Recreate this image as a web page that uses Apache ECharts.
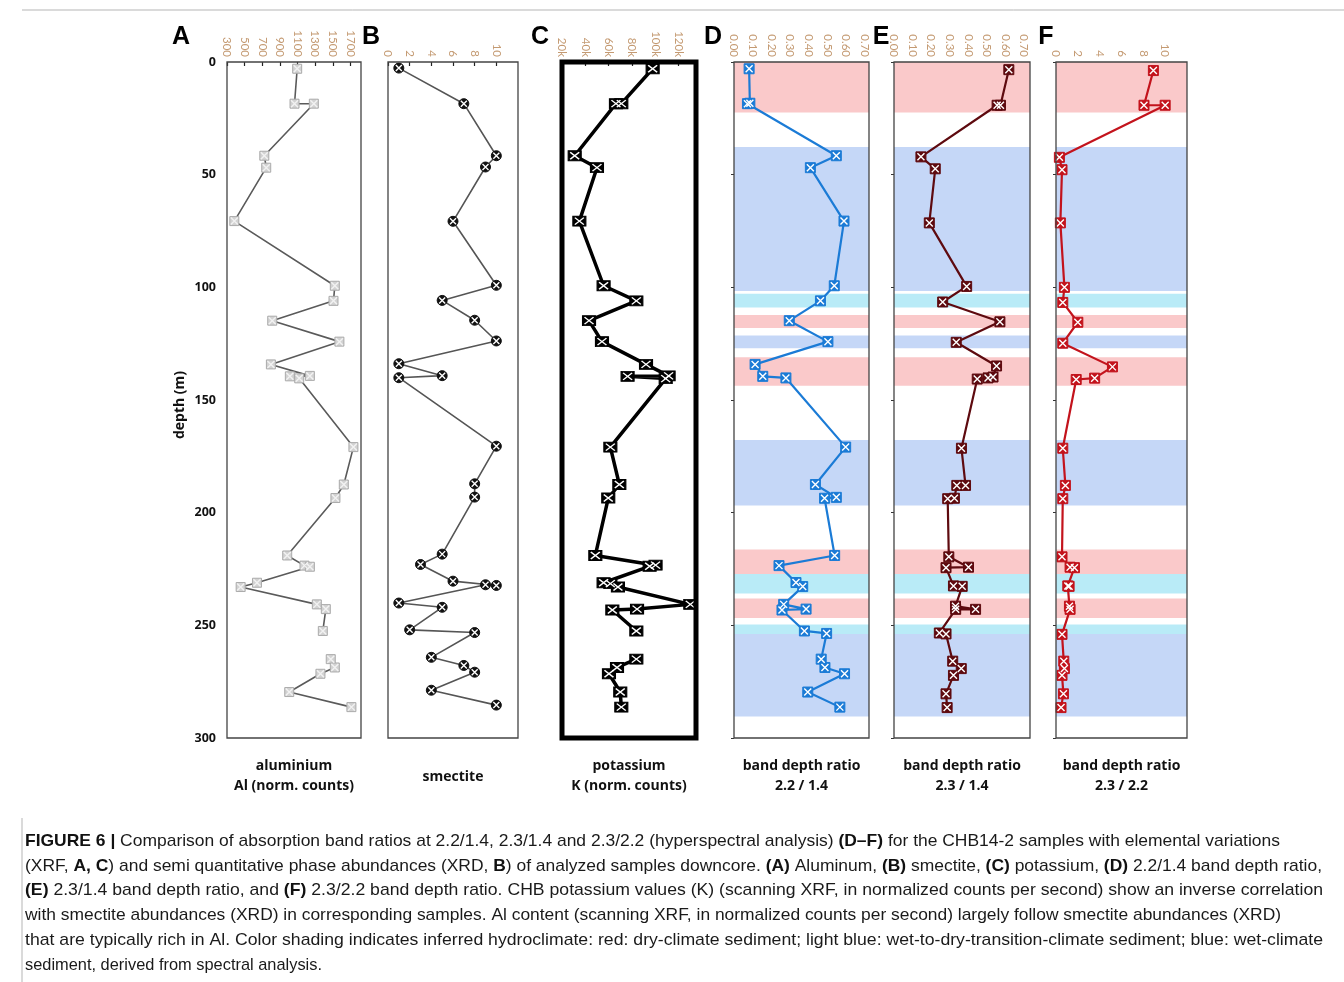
<!DOCTYPE html>
<html><head><meta charset="utf-8">
<script src="https://cdn.jsdelivr.net/npm/echarts@6/dist/echarts.min.js"></script>
<style>html,body{margin:0;padding:0;background:#fff}#c{width:1344px;height:982px}</style>
</head><body><div id="c"></div>
<script>
// ---------------- DATA ----------------
const depthTicks = [0, 50, 100, 150, 200, 250, 300];

// A: aluminium (norm. counts)  (null = gap in line)
const alDepth = [3, 18.5, 18.5, 41.6, 46.9, 70.6, 99.3, 106, 114.8, 124.1, 134.2, 139.3, 139.5, 140.4, 170.9, 187.5, 193.5, 219, 223.5, 224, 231.1, 233, 240.7, 242.8, 252.5, null, 265, 268.7, 271.5, 279.6, 286.3];
const alValue = [1096, 1066, 1285, 723, 745, 383, 1523, 1508, 813, 1575, 798, 1240, 1013, 1119, 1734, 1625, 1530, 983, 1179, 1240, 640, 455, 1319, 1421, 1387, null, 1477, 1523, 1360, 1006, 1711];

// B: smectite
const smDepth = [2.7, 18.5, 41.6, 46.6, 70.7, 99.1, 105.8, 114.6, 123.8, 133.9, 139.2, 140.1, 170.5, 187.2, 193.1, 218.4, 223, 230.4, 232.3, 232, 240.1, 242, 252, 253.2, 264.2, 267.8, 270.8, 278.8, 285.4];
const smValue = [1, 7, 10, 9, 6, 10, 5, 8, 10, 1, 5, 1, 10, 8, 8, 5, 3, 6, 10, 9, 1, 5, 2, 8, 4, 7, 8, 4, 10];

// C: potassium K (norm. counts)
const kDepth = [3, 18.5, 18.5, 41.6, 46.9, 70.6, 99.3, 106, 114.8, 124.1, 134.2, 139.3, 139.5, 140.5, 170.9, 187.5, 193.5, 219, 223.3, 223.8, 231.1, 231.5, 233, 240.7, 242.8, 243.2, 252.5, null, 265, 268.7, 271.5, 279.6, 286.3];
const kValue = [97800, 70900, 66300, 30900, 50000, 34900, 55700, 83800, 43200, 54300, 92100, 111500, 76300, 109000, 61500, 69200, 59700, 48600, 100300, 95200, 55700, 61500, 68000, 130100, 84400, 63200, 83800, null, 83800, 67200, 60300, 70000, 70900];

// D: band depth ratio 2.2 / 1.4
const d22Depth = [3, 18.3, 18.5, 41.6, 46.9, 70.6, 99.3, 106, 114.8, 124.1, 134.2, 139.5, 140.2, 170.9, 187.5, 193.2, 193.6, 219, 223.5, 231, 232.8, 240.7, 242.8, 243.2, 252.5, 253.6, 265, 268.7, 271.5, 279.6, 286.3];
const d22Value = [0.081, 0.085, 0.072, 0.548, 0.409, 0.589, 0.537, 0.463, 0.296, 0.503, 0.113, 0.154, 0.278, 0.598, 0.436, 0.548, 0.485, 0.539, 0.241, 0.332, 0.368, 0.266, 0.386, 0.257, 0.377, 0.496, 0.467, 0.487, 0.592, 0.395, 0.567];

// E: band depth ratio 2.3 / 1.4
const e23Depth = [3.4, 19.2, 19.2, 42.1, 47.4, 71.4, 99.6, 106.5, 115.3, 124.4, 134.9, 139.8, 140.2, 140.7, 171.4, 187.9, 187.9, 193.6, 193.8, 219.6, 224.2, 224.4, 232.5, 232.7, 241.5, 242.9, 242.9, 253.4, 253.8, 265.9, 269.2, 272.2, 280.4, 286.5];
const e23Value = [0.618, 0.573, 0.555, 0.145, 0.222, 0.190, 0.391, 0.262, 0.570, 0.335, 0.552, 0.533, 0.506, 0.448, 0.363, 0.385, 0.338, 0.325, 0.289, 0.295, 0.401, 0.280, 0.320, 0.367, 0.331, 0.439, 0.332, 0.244, 0.280, 0.316, 0.362, 0.320, 0.280, 0.286];

// F: band depth ratio 2.3 / 2.2
const fDepth = [3.8, 19.2, 19.2, 42.3, 47.8, 71.4, 100, 106.7, 115.5, 124.8, 135.3, 140.3, 140.9, 171.4, 187.9, 193.8, 219.6, 224.2, 224.4, 232.5, 232.7, 241.5, 242.9, 254, 265.9, 269.2, 272.2, 280.4, 286.5];
const fValue = [8.92, 8.06, 10.0, 0.31, 0.55, 0.40, 0.77, 0.62, 2.0, 0.62, 5.17, 3.54, 1.85, 0.62, 0.86, 0.62, 0.55, 1.29, 1.69, 1.08, 1.2, 1.23, 1.29, 0.55, 0.71, 0.77, 0.55, 0.68, 0.46];

// hydroclimate shading (depth intervals)
const bandStart = [0, 37.7, 102.8, 112.3, 121.4, 131, 167.7, 216.3, 227.2, 238.1, 249.6, 253.8];
const bandEnd   = [22.4, 101.6, 108.9, 118.1, 127, 143.7, 196.8, 227.2, 235.9, 246.8, 253.8, 290.5];
const bandType  = ['dry', 'wet', 'transition', 'dry', 'wet', 'dry', 'wet', 'dry', 'transition', 'dry', 'transition', 'wet'];

// tick labels / axis titles
const panelLetters = ['A', 'B', 'C', 'D', 'E', 'F'];
const panelTitles = [['aluminium', 'Al (norm. counts)'], ['smectite'], ['potassium', 'K (norm. counts)'], ['band depth ratio', '2.2 / 1.4'], ['band depth ratio', '2.3 / 1.4'], ['band depth ratio', '2.3 / 2.2']];
const captionLines = [
  '{b|FIGURE 6 |} Comparison of absorption band ratios at 2.2/1.4, 2.3/1.4 and 2.3/2.2 (hyperspectral analysis) {b|(D–F)} for the CHB14-2 samples with elemental variations',
  '(XRF, {b|A, C}) and semi quantitative phase abundances (XRD, {b|B}) of analyzed samples downcore. {b|(A)} Aluminum, {b|(B)} smectite, {b|(C)} potassium, {b|(D)} 2.2/1.4 band depth ratio,',
  '{b|(E)} 2.3/1.4 band depth ratio, and {b|(F)} 2.3/2.2 band depth ratio. CHB potassium values (K) (scanning XRF, in normalized counts per second) show an inverse correlation',
  'with smectite abundances (XRD) in corresponding samples. Al content (scanning XRF, in normalized counts per second) largely follow smectite abundances (XRD)',
  'that are typically rich in Al. Color shading indicates inferred hydroclimate: red: dry-climate sediment; light blue: wet-to-dry-transition-climate sediment; blue: wet-climate',
  'sediment, derived from spectral analysis.'
];

// ---------------- STYLE / LAYOUT ----------------
const bandColor = { dry: '#fac9ca', wet: '#c5d7f7', transition: '#b9ebf7' };
const panels = [
  { left: 227, width: 134, min: 300, max: 1820, interval: 200, fmt: v => String(v), border: '#444', bw: 1.3,
    line: '#5a5a5a', lw: 1.6, sym: 'rect', ss: 9, fill: '#d2d2d2', edge: '#ababab', xc: '#f2f2f2', xs: 7, depth: alDepth, value: alValue },
  { left: 388, width: 130, min: 0, max: 12, interval: 2, fmt: v => String(v), border: '#444', bw: 1.3,
    line: '#555', lw: 1.6, sym: 'circle', ss: 10, fill: '#111', edge: '#111', xc: '#fff', xs: 6, depth: smDepth, value: smValue },
  { left: 562, width: 134, min: 20000, max: 135000, interval: 20000, fmt: v => (v / 1000) + 'k', border: '#000', bw: 5,
    line: '#000', lw: 3.5, sym: 'rect', ss: [13, 10], fill: '#000', edge: '#000', xc: '#fff', xs: [9, 7], depth: kDepth, value: kValue },
  { left: 734, width: 135, min: 0, max: 0.723, interval: 0.1, fmt: v => v.toFixed(2), border: '#444', bw: 1.3, bands: true,
    line: '#1b7bd6', lw: 2.2, sym: 'rect', ss: 10, fill: '#1b7bd6', edge: '#1b7bd6', xc: '#fff', xs: 7, depth: d22Depth, value: d22Value },
  { left: 894, width: 136, min: 0, max: 0.732, interval: 0.1, fmt: v => v.toFixed(2), border: '#444', bw: 1.3, bands: true,
    line: '#5e0a0f', lw: 2.2, sym: 'rect', ss: 10, fill: '#5e0a0f', edge: '#5e0a0f', xc: '#fff', xs: 7, depth: e23Depth, value: e23Value },
  { left: 1056, width: 131, min: 0, max: 12, interval: 2, fmt: v => String(v), border: '#444', bw: 1.3, bands: true,
    line: '#c3131c', lw: 2.2, sym: 'rect', ss: 10, fill: '#c3131c', edge: '#c3131c', xc: '#fff', xs: 7, depth: fDepth, value: fValue }
];
const TOP = 62, H = 676;
const tickColor = '#c49a72';

function pairs(depth, value) {
  return depth.map((d, i) => (d == null || value[i] == null) ? ['-', '-'] : [value[i], d]);
}
function validPairs(depth, value) {
  return pairs(depth, value).filter(p => p[0] !== '-');
}

const grids = [], xAxes = [], yAxes = [], series = [];
panels.forEach((p, i) => {
  grids.push({ left: p.left, top: TOP, width: p.width, height: H, show: true, borderColor: p.border, borderWidth: p.bw, backgroundColor: 'transparent', z: 5 });
  xAxes.push({
    gridIndex: i, type: 'value', position: 'top', min: p.min, max: p.max, interval: p.interval,
    axisLine: { show: false },
    axisTick: { show: true, inside: true, length: 4, lineStyle: { color: '#222', width: 1.2 } },
    axisLabel: { rotate: -90, color: tickColor, fontSize: 11.5, fontFamily: 'Lato', margin: 5, showMaxLabel: false, formatter: p.fmt },
    splitLine: { show: false }
  });
  yAxes.push({
    gridIndex: i, type: 'value', inverse: true, min: depthTicks[0], max: depthTicks[depthTicks.length - 1], interval: 50,
    axisLine: { show: false },
    axisTick: { show: !!p.bands, length: 3, lineStyle: { color: '#333' } },
    axisLabel: { show: i === 0, color: '#111', fontWeight: 'bold', fontSize: 12.5, fontFamily: 'Open Sans', margin: 11 },
    splitLine: { show: false }
  });
  const s = {
    type: 'line', xAxisIndex: i, yAxisIndex: i, data: pairs(p.depth, p.value),
    connectNulls: false, showSymbol: true, showAllSymbol: true, symbol: p.sym, symbolSize: p.ss,
    lineStyle: { color: p.line, width: p.lw },
    itemStyle: { color: p.fill, borderColor: p.edge, borderWidth: 1 },
    emphasis: { disabled: true }, silent: true, z: 3
  };
  if (p.bands) {
    s.markArea = {
      silent: true,
      data: bandStart.map((b, k) => [
        { yAxis: b, itemStyle: { color: bandColor[bandType[k]], opacity: 1 } },
        { yAxis: bandEnd[k] }
      ])
    };
  }
  series.push(s);
  series.push({
    type: 'scatter', xAxisIndex: i, yAxisIndex: i, data: validPairs(p.depth, p.value),
    symbol: 'path://M0,0L10,10M10,0L0,10', symbolSize: p.xs,
    itemStyle: { color: 'rgba(0,0,0,0)', borderColor: p.xc, borderWidth: 1.4, opacity: 1 },
    emphasis: { disabled: true }, silent: true, z: 4
  });
});

// ---------------- GRAPHICS (text) ----------------
const graphics = [];
const letterX = [181, 371, 540, 713, 881, 1046];
const labelFont = 'bold 14px "Open Sans"';
panelLetters.forEach((L, i) => graphics.push({
  type: 'text', x: letterX[i], y: 37, style: { text: L, font: 'bold 25px "Liberation Sans", Arial', fill: '#000', align: 'center', verticalAlign: 'middle' }
}));
panelTitles.forEach((t, i) => {
  const cx = panels[i].left + panels[i].width / 2;
  if (t.length === 1) {
    graphics.push({ type: 'text', x: cx, y: 777, style: { text: t[0], font: labelFont, fill: '#111', align: 'center', verticalAlign: 'middle' } });
  } else {
    graphics.push({ type: 'text', x: cx, y: 766, style: { text: t[0], font: labelFont, fill: '#111', align: 'center', verticalAlign: 'middle' } });
    graphics.push({ type: 'text', x: cx, y: 786, style: { text: t[1], font: labelFont, fill: '#111', align: 'center', verticalAlign: 'middle' } });
  }
});
graphics.push({ type: 'text', x: 180, y: 405, rotation: Math.PI / 2, style: { text: 'depth (m)', font: labelFont, fill: '#111', align: 'center', verticalAlign: 'middle' } });

// frame lines
graphics.push({ type: 'line', shape: { x1: 22, y1: 10, x2: 1344, y2: 10 }, style: { stroke: '#b5b5b5', lineWidth: 1 } });
graphics.push({ type: 'line', shape: { x1: 22, y1: 818, x2: 22, y2: 982 }, style: { stroke: '#b5b5b5', lineWidth: 1 } });

// caption
const capFont = '17px "Liberation Sans", Arial';
const capBold = 'bold 17px "Liberation Sans", Arial';
const mctx = document.createElement('canvas').getContext('2d');
function measureRich(str) {
  let w = 0, last = 0, m; const re = /\{b\|([^}]*)\}/g;
  while ((m = re.exec(str))) {
    mctx.font = capFont; w += mctx.measureText(str.slice(last, m.index)).width;
    mctx.font = capBold; w += mctx.measureText(m[1]).width;
    last = re.lastIndex;
  }
  mctx.font = capFont; w += mctx.measureText(str.slice(last)).width;
  return w;
}
const capTargets = [1255, 1297, 1298, 1256, 1298, 297];
const capY = [841, 866, 890.5, 915, 940, 965];
captionLines.forEach((line, i) => {
  const sx = capTargets[i] / measureRich(line);
  graphics.push({
    type: 'text', x: 25, y: capY[i], scaleX: sx, originX: 0, originY: 0,
    style: { x: 0, y: 0, text: line, font: capFont, fill: '#1a1a1a', verticalAlign: 'middle', align: 'left',
      rich: { b: { font: capBold, fill: '#111' } } }
  });
});

const chart = echarts.init(document.getElementById('c'), null, { renderer: 'canvas' });
chart.setOption({
  animation: false,
  backgroundColor: '#fff',
  grid: grids, xAxis: xAxes, yAxis: yAxes, series: series,
  graphic: graphics
});
</script></body></html>
